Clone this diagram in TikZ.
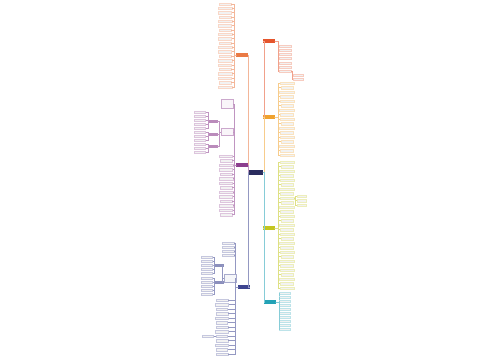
\documentclass[tikz,border=0pt]{standalone}
\usepackage{tikz}
\usetikzlibrary{calc,positioning}

\definecolor{rootc}{HTML}{2A2C5E}
\definecolor{redc}{HTML}{E5552C}
\definecolor{orgc}{HTML}{EA7A45}
\definecolor{ambc}{HTML}{F0A22E}
\definecolor{purc}{HTML}{8C3E8E}
\definecolor{grnc}{HTML}{C3C61E}
\definecolor{tealc}{HTML}{23A2B6}
\definecolor{navc}{HTML}{3D4490}

\tikzset{
  rootbox/.style={fill=rootc,draw=rootc,minimum width=13pt,minimum height=4.5pt,inner sep=0pt},
  branch/.style={fill=#1,draw=#1,minimum width=11pt,minimum height=3pt,inner sep=0pt},
  subbox/.style={draw=#1!45,fill=#1!5,minimum width=12pt,inner sep=0pt,line width=0.3pt},
  leaf/.style={draw=#1!30,fill=gray!10,minimum height=2.6pt,inner sep=0pt,line width=0.2pt},
  link/.style={draw=#1!55,line width=0.3pt}
}

\begin{document}
\begin{tikzpicture}[x=1pt,y=-1pt]
  \useasboundingbox (0,0) rectangle (500,360);

  % root and main branches
  \node[rootbox] (root) at (256,172) {};
  \node[branch=redc] (bRed) at (269,41) {};
  \node[branch=ambc] (bAmb) at (269,117) {};
  \node[branch=grnc] (bGrn) at (269,228) {};
  \node[branch=tealc] (bTeal) at (270,302) {};
  \node[branch=orgc] (bOrg) at (242,55) {};
  \node[branch=purc] (bPur) at (242,165) {};
  \node[branch=navc] (bNav) at (244,287) {};
  \foreach \b/\c in {bRed/redc, bAmb/ambc, bGrn/grnc, bTeal/tealc} {
    \draw[link=\c] (root.east) -- ++(1.5,0) |- (\b.west);
  }
  \foreach \b/\c in {bOrg/orgc, bPur/purc, bNav/navc} {
    \draw[link=\c] (root.west) -- ++(-1.5,0) |- (\b.east);
  }

  % top left: orange
  \foreach \y/\w [count=\i] in {4/12,8/14,12.5/13,17/12,21/14,25.5/13,30/12,34/14,38.5/13,43/12,
      47/14,51.5/13,56/12,60.5/14,65/13,69/12,73.5/14,78/13,82.5/12,87/14} {
    \node[leaf=orgc,minimum width=\w pt] (o\i) at (225,\y) {};
    \draw[link=orgc] (bOrg.west) -- ++(-2.5,0) |- (o\i.east);
  }

  % top right: red
  \foreach \y [count=\i] in {46,50,54,58,63,67,71} {
    \node[leaf=redc,minimum width=12pt] (r\i) at (285,\y) {};
    \draw[link=redc] (bRed.east) -- ++(3,0) |- (r\i.west);
  }
  \foreach \y [count=\i] in {75,79} {
    \node[leaf=redc,minimum width=10pt] (rs\i) at (298,\y) {};
    \draw[link=redc] (r7.east) -- ++(1,0) |- (rs\i.west);
  }

  % right: amber
  \foreach \y/\w [count=\i] in {83/14,87.5/12,92/15,96.5/13,101/14,105.5/12,110/15,114.5/13,119/14,
      123.5/12,128/15,132.5/13,137/14,141.5/12,146/15,150.5/13,155/14} {
    \node[leaf=ambc,minimum width=\w pt] (a\i) at (287,\y) {};
    \draw[link=ambc] (bAmb.east) -- ++(3,0) |- (a\i.west);
  }

  % left: purple
  \node[subbox=purc,minimum height=9pt] (p1) at (227,104) {};
  \node[subbox=purc,minimum height=7pt] (p2) at (227,132) {};
  \foreach \n in {p1,p2} {
    \draw[link=purc] (bPur.west) -- ++(-2.5,0) |- (\n.east);
  }
  \foreach \y [count=\i] in {121,134,146} {
    \node[branch=purc!60,minimum width=8pt,minimum height=1.5pt] (q\i) at (213,\y) {};
    \draw[link=purc] (p2.west) -- ++(-2,0) |- (q\i.east);
  }
  \foreach \q/\ys in {q1/{112,116,120,124,128}, q2/{132,136,140}, q3/{144,148,152}} {
    \foreach \y in \ys {
      \node[leaf=purc,minimum width=11pt] (s\y) at (200,\y) {};
      \draw[link=purc] (\q.west) -- ++(-1,0) |- (s\y.east);
    }
  }
  \foreach \y/\w [count=\i] in {156/13,160.5/12,165/14,169.5/13,174/12,178.5/14,183/13,187.5/12,
      192/14,196.5/13,201/12,205.5/14,210/13,214.5/12} {
    \node[leaf=purc,minimum width=\w pt] (u\i) at (226,\y) {};
    \draw[link=purc] (bPur.west) -- ++(-2.5,0) |- (u\i.east);
  }

  % right: green
  \foreach \y/\w [count=\i] in {162/14,166.5/12,171/15,175.5/13,180/14,184.5/12,189/15,193.5/13,
      198/14,202.5/12,207/15,211.5/13,216/14,220.5/12,225/15,229.5/13,234/14,238.5/12,243/15,
      247.5/13,252/14,256.5/12,261/15,265.5/13,270/14,274.5/12,279/15,283.5/13,288/14} {
    \node[leaf=grnc,minimum width=\w pt] (g\i) at (287,\y) {};
    \draw[link=grnc] (bGrn.east) -- ++(3,0) |- (g\i.west);
  }
  \foreach \y [count=\i] in {196,200.5,205} {
    \node[leaf=grnc,minimum width=9pt] (gs\i) at (302,\y) {};
    \draw[link=grnc] (g9.east) -- ++(1,0) |- (gs\i.west);
  }

  % right: teal
  \foreach \y [count=\i] in {293,297,301,305,309,313,317,321,325,329} {
    \node[leaf=tealc,minimum width=11pt] (t\i) at (285,\y) {};
    \draw[link=tealc] (bTeal.east) -- ++(3,0) |- (t\i.west);
  }

  % left: navy
  \foreach \y [count=\i] in {243,247,251,255} {
    \node[leaf=navc,minimum width=12pt] (n\i) at (228,\y) {};
    \draw[link=navc] (bNav.west) -- ++(-3,0) |- (n\i.east);
  }
  \node[subbox=navc,minimum height=8pt] (k1) at (230,278) {};
  \draw[link=navc] (bNav.west) -- ++(-3,0) |- (k1.east);
  \foreach \y [count=\i] in {265,282} {
    \node[branch=navc!60,minimum width=8pt,minimum height=1.5pt] (m\i) at (219,\y) {};
    \draw[link=navc] (k1.west) -- ++(-2,0) |- (m\i.east);
  }
  \foreach \m/\ys in {m1/{257,261,265,269,273}, m2/{278,282,286,290,294}} {
    \foreach \y in \ys {
      \node[leaf=navc,minimum width=11pt] (v\y) at (207,\y) {};
      \draw[link=navc] (\m.west) -- ++(-1,0) |- (v\y.east);
    }
  }
  \foreach \y/\w [count=\i] in {300/12,304.5/13,309/11,313.5/12,318/13,322.5/11,327/12,
      331.5/13,336/11,340.5/12,345/13,349.5/11,354/12} {
    \node[leaf=navc,minimum width=\w pt] (w\i) at (222,\y) {};
    \draw[link=navc] (bNav.west) -- ++(-3,0) |- (w\i.east);
  }
  \node[leaf=navc,minimum width=11pt] (ws1) at (208,336) {};
  \draw[link=navc] (w9.west) -- (ws1.east);
\end{tikzpicture}
\end{document}
